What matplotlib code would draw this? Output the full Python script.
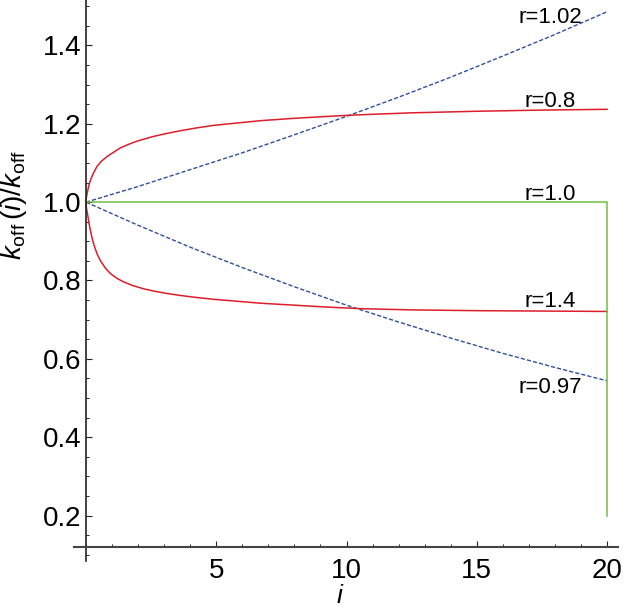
import matplotlib
matplotlib.use("Agg")
import matplotlib.pyplot as plt
from matplotlib.ticker import MultipleLocator, FixedLocator

plt.rcParams['font.family'] = ['Liberation Sans', 'DejaVu Sans']
plt.rcParams['mathtext.fontset'] = 'custom'
plt.rcParams['mathtext.rm'] = 'Liberation Sans'
plt.rcParams['mathtext.it'] = 'Liberation Sans:italic'

# ---- data ----
i_r102 = [0, 2, 4, 6, 8, 10, 12, 14, 16, 18, 20]
k_r102 = [1.0, 1.040, 1.083, 1.126, 1.172, 1.219, 1.268, 1.319, 1.373, 1.428, 1.486]

i_r097 = [0, 2, 4, 6, 8, 10, 12, 14, 16, 18, 20]
k_r097 = [1.0, 0.941, 0.885, 0.833, 0.784, 0.737, 0.694, 0.653, 0.614, 0.578, 0.544]

i_r08 = [0, 0.02, 0.05, 0.1, 0.18, 0.3, 0.43, 0.6, 0.82, 1.05, 1.33, 1.65, 1.97,
         2.55, 3.0, 3.6, 4.2, 4.9, 5.8, 6.7, 8, 9.3, 10.5, 12.5, 15, 17.5, 20]
k_r08 = [1.0, 1.014, 1.024, 1.040, 1.058, 1.076, 1.092, 1.105, 1.117, 1.127, 1.139,
         1.148, 1.156, 1.167, 1.174, 1.182, 1.189, 1.196, 1.202, 1.208, 1.214,
         1.219, 1.223, 1.228, 1.232, 1.235, 1.237]

i_r14 = [0, 0.02, 0.05, 0.1, 0.15, 0.22, 0.31, 0.43, 0.56, 0.75, 0.95, 1.2, 1.46,
         1.8, 2.2, 2.6, 3.1, 3.6, 4.2, 4.9, 5.8, 6.7, 8, 9.3, 10.6, 12.5, 15, 17.5, 20]
k_r14 = [1.0, 0.984, 0.973, 0.953, 0.934, 0.912, 0.890, 0.867, 0.850, 0.831, 0.817,
         0.805, 0.796, 0.787, 0.779, 0.773, 0.767, 0.762, 0.757, 0.752, 0.747,
         0.742, 0.737, 0.732, 0.728, 0.725, 0.723, 0.722, 0.721]

i_r10 = [0, 20, 20]
k_r10 = [1.0, 1.0, 0.2]

labels = ["r=1.02", "r=0.8", "r=1.0", "r=1.4", "r=0.97"]
label_y = [1.457, 1.242, 1.005, 0.732, 0.513]
label_x = 17.81

xticks = [5, 10, 15, 20]
yticks = [0.2, 0.4, 0.6, 0.8, 1.0, 1.2, 1.4]

RED = '#DC1E2A'
BLUE = '#2E4FA0'
GREEN = '#6CBE45'

fig = plt.figure(figsize=(6.42, 6.11), dpi=100)
ax = fig.add_axes([74/642, 50/611, (618-74)/642, 561/611])
ax.set_xlim(-0.46, 20.42)
ax.set_ylim(0.084, 1.516)

ax.plot(i_r102, k_r102, color=BLUE, lw=1.0, ls=(0, (3, 1.5)))
ax.plot(i_r097, k_r097, color=BLUE, lw=1.0, ls=(0, (3, 1.5)))
ax.plot(i_r08, k_r08, color=RED, lw=1.1)
ax.plot(i_r14, k_r14, color=RED, lw=1.1)
ax.plot(i_r10, k_r10, color=GREEN, lw=1.1)

for t, y in zip(labels, label_y):
    ax.text(label_x, y, t, ha='center', va='baseline', fontsize=16)

for s in ['top', 'right']:
    ax.spines[s].set_visible(False)
ax.spines['left'].set_position(('data', 0))
ax.spines['bottom'].set_position(('data', 0.121))
ax.spines['left'].set_color('#222222')
ax.spines['bottom'].set_color('#444444')
ax.spines['left'].set_linewidth(1.2)
ax.spines['bottom'].set_linewidth(1.5)

ax.xaxis.set_major_locator(FixedLocator(xticks))
ax.xaxis.set_minor_locator(MultipleLocator(1))
ax.yaxis.set_major_locator(FixedLocator(yticks))
ax.yaxis.set_minor_locator(MultipleLocator(0.05))
ax.set_yticklabels([f"{v:.1f}" for v in yticks])
ax.tick_params(axis='both', which='major', direction='in', length=4, width=0.8,
               labelsize=20, color='#222222')
ax.tick_params(axis='both', which='minor', direction='in', length=2.5, width=0.7,
               color='#222222')
ax.tick_params(axis='x', which='major', pad=8)
ax.tick_params(axis='y', which='major', pad=3)

fig.text(14/642, 1 - 205/611, r"$k_{\rm off}\,(i)/k_{\rm off}$", rotation=90,
         ha='center', va='center', fontsize=20)
fig.text(340/642, 1 - 584/611, r"$i$", ha='center', va='top', fontsize=19)

fig.savefig("out.png", dpi=100)
